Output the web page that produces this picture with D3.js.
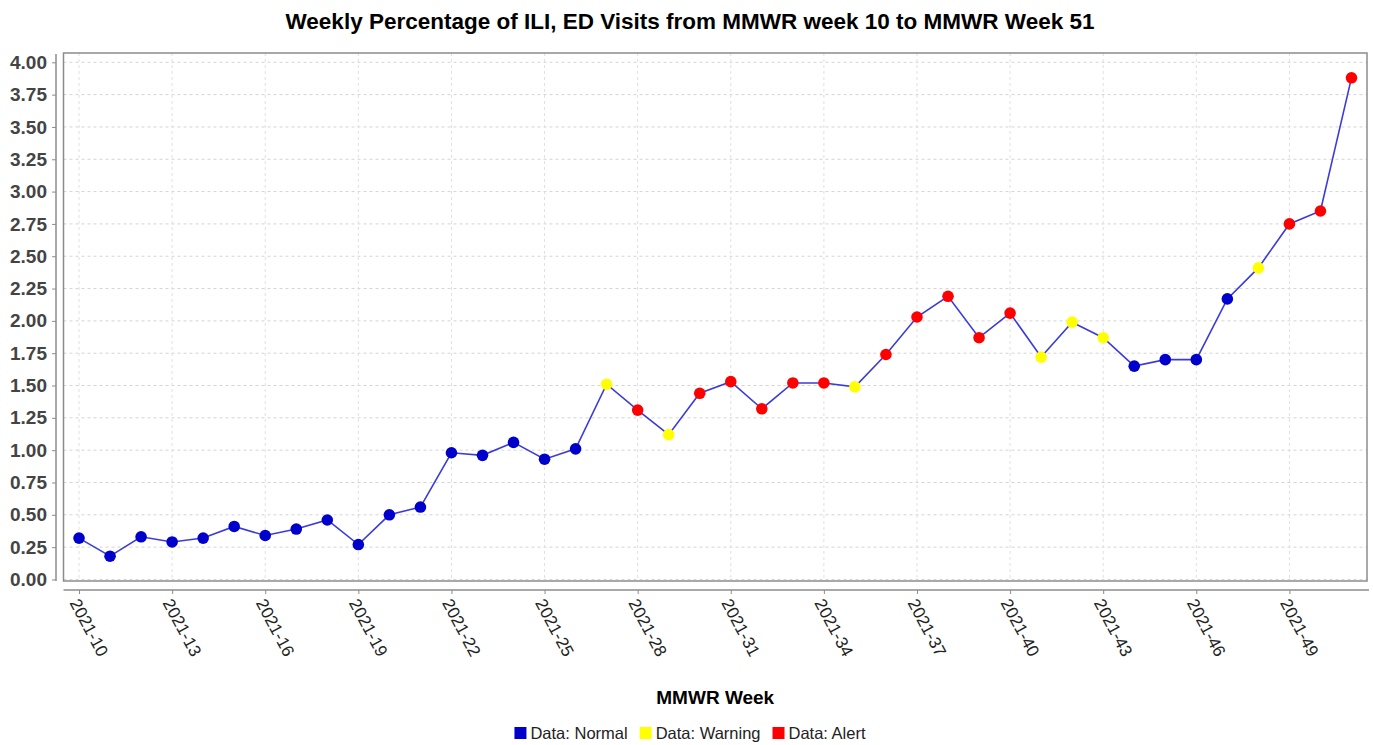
<!DOCTYPE html>
<html>
<head>
<meta charset="utf-8">
<script src="https://cdn.jsdelivr.net/npm/d3@7"></script>
<style>
  body { margin: 0; background: #fff; }
  svg { display: block; font-family: "Liberation Sans", Arial, sans-serif; }
</style>
</head>
<body>
<div id="chart"></div>
<script>
// MMWR weeks 10..51 of 2021
let weeks = ["2021-10","2021-11","2021-12","2021-13","2021-14","2021-15","2021-16","2021-17","2021-18","2021-19",
             "2021-20","2021-21","2021-22","2021-23","2021-24","2021-25","2021-26","2021-27","2021-28","2021-29",
             "2021-30","2021-31","2021-32","2021-33","2021-34","2021-35","2021-36","2021-37","2021-38","2021-39",
             "2021-40","2021-41","2021-42","2021-43","2021-44","2021-45","2021-46","2021-47","2021-48","2021-49",
             "2021-50","2021-51"];

let iliPercent = [0.32,0.18,0.33,0.29,0.32,0.41,0.34,0.39,0.46,0.27,
                  0.50,0.56,0.98,0.96,1.06,0.93,1.01,1.51,1.31,1.12,
                  1.44,1.53,1.32,1.52,1.52,1.49,1.74,2.03,2.19,1.87,
                  2.06,1.72,1.99,1.87,1.65,1.70,1.70,2.17,2.41,2.75,
                  2.85,3.88];

let status = ["Normal","Normal","Normal","Normal","Normal","Normal","Normal","Normal","Normal","Normal",
              "Normal","Normal","Normal","Normal","Normal","Normal","Normal","Warning","Alert","Warning",
              "Alert","Alert","Alert","Alert","Alert","Warning","Alert","Alert","Alert","Alert",
              "Alert","Warning","Warning","Warning","Normal","Normal","Normal","Normal","Warning","Alert",
              "Alert","Alert"];

let yTicks = [0,0.25,0.5,0.75,1,1.25,1.5,1.75,2,2.25,2.5,2.75,3,3.25,3.5,3.75,4];
let xTickLabels = ["2021-10","2021-13","2021-16","2021-19","2021-22","2021-25","2021-28","2021-31",
                   "2021-34","2021-37","2021-40","2021-43","2021-46","2021-49"];

let statusNames = ["Normal","Warning","Alert"];
let statusColors = ["#0000cc","#ffff00","#ff0000"];

let width = 1373, height = 745;
let plot = {left: 63.5, right: 1367, top: 53, bottom: 581};

let svg = d3.select("#chart").append("svg")
    .attr("width", width)
    .attr("height", height);

let x = d3.scalePoint()
    .domain(weeks)
    .range([plot.left, plot.right])
    .padding(0.5);

let y = d3.scaleLinear()
    .domain([-0.012, 4.072])
    .range([plot.bottom, plot.top]);

let color = d3.scaleOrdinal().domain(statusNames).range(statusColors);

// gridlines
svg.append("g").selectAll("line")
    .data(yTicks)
    .enter().append("line")
    .attr("x1", plot.left).attr("x2", plot.right)
    .attr("y1", d => y(d)).attr("y2", d => y(d))
    .attr("stroke", "#d4d4d4")
    .attr("stroke-dasharray", "3,3");

svg.append("g").selectAll("line")
    .data(xTickLabels)
    .enter().append("line")
    .attr("x1", d => x(d)).attr("x2", d => x(d))
    .attr("y1", plot.top).attr("y2", plot.bottom)
    .attr("stroke", "#e0e0e0")
    .attr("stroke-dasharray", "3,3");

// plot border
svg.append("rect")
    .attr("x", plot.left).attr("y", plot.top)
    .attr("width", plot.right - plot.left)
    .attr("height", plot.bottom - plot.top)
    .attr("fill", "none")
    .attr("stroke", "#8c8c8c")
    .attr("stroke-width", 1.5);

// y axis, offset to the left of the plot
let yAxis = svg.append("g")
    .attr("transform", "translate(56,0)")
    .call(d3.axisLeft(y).tickValues(yTicks).tickFormat(d3.format(".2f")).tickSize(4).tickSizeOuter(0));
yAxis.select(".domain").attr("stroke", "#8c8c8c").attr("stroke-width", 1.5)
    .attr("d", "M0," + (plot.top + 1) + "V" + plot.bottom);
yAxis.selectAll(".tick line").attr("stroke", "#8c8c8c");
yAxis.selectAll("text")
    .attr("x", -9)
    .attr("font-size", "19px")
    .attr("font-weight", "bold")
    .attr("fill", "#444");

// x axis, offset below the plot
let xAxis = svg.append("g")
    .attr("transform", "translate(0,590)")
    .call(d3.axisBottom(x).tickValues(xTickLabels).tickSize(4).tickSizeOuter(0));
xAxis.select(".domain").attr("stroke", "#8c8c8c").attr("stroke-width", 1.5)
    .attr("d", "M" + plot.left + ",0H" + (plot.right + 2));
xAxis.selectAll(".tick line").attr("stroke", "#8c8c8c");
xAxis.selectAll("text")
    .attr("y", 0)
    .attr("dy", "0.35em")
    .attr("font-size", "17px")
    .attr("fill", "#222")
    .attr("text-anchor", "start")
    .attr("transform", "translate(-5,10) rotate(62)");

// line
let line = d3.line()
    .x((d, i) => x(weeks[i]))
    .y(d => y(d));

svg.append("path")
    .datum(iliPercent)
    .attr("d", line)
    .attr("fill", "none")
    .attr("stroke", "#3b3bdb")
    .attr("stroke-width", 1.6);

// markers
svg.append("g").selectAll("circle")
    .data(iliPercent)
    .enter().append("circle")
    .attr("cx", (d, i) => x(weeks[i]))
    .attr("cy", d => y(d))
    .attr("r", 5.8)
    .attr("fill", (d, i) => color(status[i]));

// title
svg.append("text")
    .attr("x", 690).attr("y", 29)
    .attr("text-anchor", "middle")
    .attr("font-size", "22.5px")
    .attr("font-weight", "bold")
    .attr("fill", "#000")
    .text("Weekly Percentage of ILI, ED Visits from MMWR week 10 to MMWR Week 51");

// x axis title
svg.append("text")
    .attr("x", (plot.left + plot.right) / 2).attr("y", 704)
    .attr("text-anchor", "middle")
    .attr("font-size", "19px")
    .attr("font-weight", "bold")
    .attr("fill", "#000")
    .text("MMWR Week");

// legend, centred under the chart
let legend = svg.append("g");
let lx = 0;
statusNames.forEach(function(name, i) {
  let g = legend.append("g").attr("transform", "translate(" + lx + ",0)");
  g.append("rect")
      .attr("x", 0).attr("y", -6)
      .attr("width", 12).attr("height", 12)
      .attr("fill", statusColors[i]);
  let t = g.append("text")
      .attr("x", 16).attr("y", 6)
      .attr("font-size", "16.5px")
      .attr("fill", "#222")
      .text("Data: " + name);
  lx += 16 + t.node().getComputedTextLength() + 12;
});
legend.attr("transform", "translate(" + (690 - (lx - 12) / 2) + ",733)");
</script>
</body>
</html>
